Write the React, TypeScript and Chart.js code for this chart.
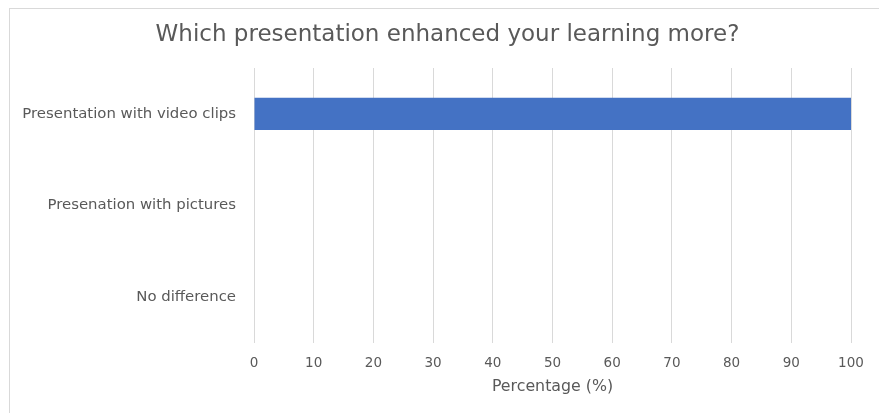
import React, { useEffect, useRef } from "react";
import { Chart, registerables } from "chart.js";

Chart.register(...registerables);

const titleText = "Which presentation enhanced your learning more?";
const categories = [
  "Presentation with video clips",
  "Presenation with pictures",
  "No difference",
];
const percentages = [100, 0, 0];
const xTitle = "Percentage (%)";
const xMin = 0;
const xMax = 100;
const xStep = 10;

const FONT = "'DejaVu Sans', sans-serif";
const TEXT = "#595959";
const GRID = "#d9d9d9";
const BAR = "#4472C4";

export default function App() {
  const ref = useRef<HTMLCanvasElement | null>(null);

  useEffect(() => {
    if (!ref.current) return;
    const chart = new Chart(ref.current, {
      type: "bar",
      data: {
        labels: categories,
        datasets: [
          {
            data: percentages,
            backgroundColor: BAR,
            borderWidth: 0,
            categoryPercentage: 1,
            barPercentage: 0.35,
          },
        ],
      },
      options: {
        indexAxis: "y",
        animation: false,
        responsive: false,
        maintainAspectRatio: false,
        layout: { padding: { left: 16, right: 0, top: 0, bottom: 0 } },
        plugins: {
          legend: { display: false },
          tooltip: { enabled: false },
          title: {
            display: true,
            text: titleText,
            color: TEXT,
            font: { family: FONT, size: 23, weight: "normal" },
            padding: { top: 21.2, bottom: 19.2 },
          },
        },
        scales: {
          x: {
            min: xMin,
            max: xMax,
            ticks: {
              stepSize: xStep,
              color: TEXT,
              font: { family: FONT, size: 13.5 },
              padding: 12,
            },
            grid: { color: GRID, drawTicks: false },
            border: { display: false },
            title: {
              display: true,
              text: xTitle,
              color: TEXT,
              font: { family: FONT, size: 15.8 },
              padding: { top: 0, bottom: 17 },
            },
            afterFit: (s: any) => {
              s.height = 70;
            },
          },
          y: {
            ticks: {
              color: TEXT,
              font: { family: FONT, size: 14.9 },
              padding: 18,
            },
            grid: { display: false, drawTicks: false },
            border: { display: false },
            afterFit: (s: any) => {
              s.width = 238;
            },
          },
          yRight: {
            type: "category",
            position: "right",
            labels: categories,
            ticks: { display: false },
            grid: { display: false, drawTicks: false },
            border: { display: false },
            afterFit: (s: any) => {
              s.width = 28;
            },
          },
        },
      },
    });
    return () => chart.destroy();
  }, []);

  return (
    <div
      style={{
        position: "fixed",
        left: 0,
        top: 0,
        width: 879,
        height: 413,
        overflow: "hidden",
        background: "#fff",
      }}
    >
      <div
        style={{
          position: "absolute",
          left: 9,
          top: 8,
          width: 900,
          height: 500,
          border: `1px solid ${GRID}`,
        }}
      />
      <canvas
        ref={ref}
        width={879}
        height={413}
        style={{ position: "absolute", left: 0, top: 0, width: 879, height: 413 }}
      />
    </div>
  );
}
